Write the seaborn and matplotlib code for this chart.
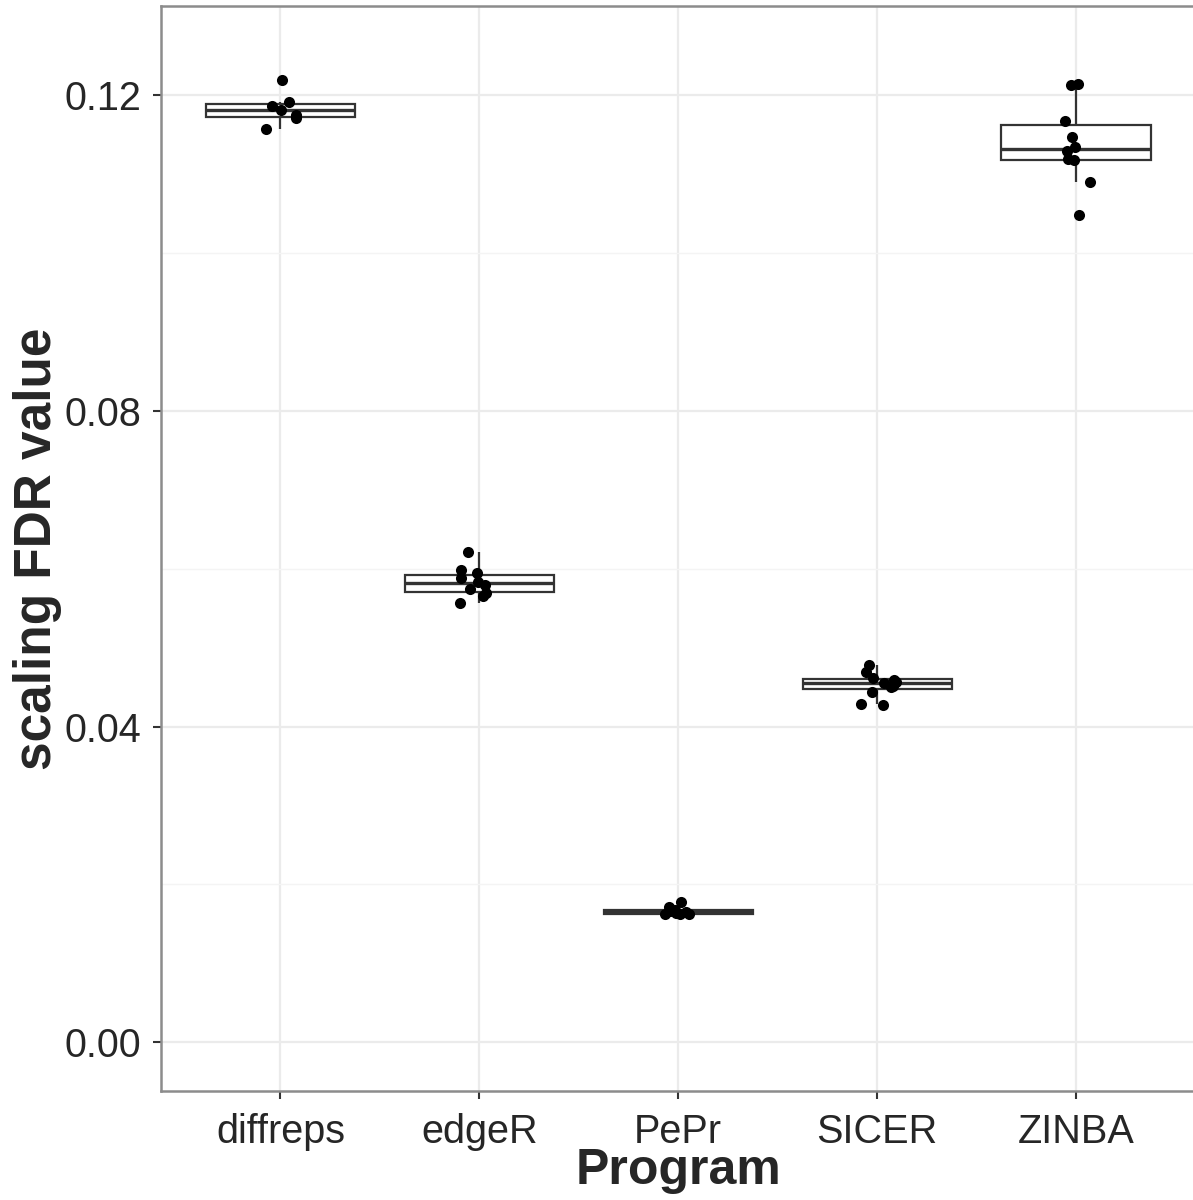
import matplotlib
matplotlib.use("Agg")
import matplotlib.pyplot as plt
from matplotlib.ticker import MultipleLocator, FormatStrFormatter
import numpy as np
import pandas as pd
import seaborn as sns

# values
programs = ["diffreps", "edgeR", "PePr", "SICER", "ZINBA"]
diffreps = [0.1220, 0.1192, 0.1186, 0.1182, 0.1175, 0.1171, 0.1158]
edger = [0.0621, 0.0598, 0.0594, 0.0588, 0.0583, 0.0580, 0.0574, 0.0569, 0.0566, 0.0556]
pepr = [0.0177, 0.0171, 0.0168, 0.0166, 0.0165, 0.0164, 0.0163, 0.0163, 0.0162]
sicer = [0.0478, 0.0469, 0.0461, 0.0459, 0.0456, 0.0455, 0.0452, 0.0450, 0.0444, 0.0428, 0.0427]
zinba = [0.1215, 0.1213, 0.1168, 0.1147, 0.1134, 0.1129, 0.1120, 0.1118, 0.1090, 0.1048]
yticks = [0.00, 0.04, 0.08, 0.12]

vals = [diffreps, edger, pepr, sicer, zinba]
df = pd.DataFrame({
    "Program": np.repeat(programs, [len(v) for v in vals]),
    "fdr": np.concatenate(vals),
})

sns.set_style("white")
plt.rcParams["font.family"] = ["Liberation Sans", "DejaVu Sans"]

fig = plt.figure(figsize=(11.93, 12), dpi=100)
ax = fig.add_axes([0.135, 0.0908, 0.867, 0.904])

sns.boxplot(data=df, x="Program", y="fdr", order=programs, color="white",
            linecolor="#333333", linewidth=1.6, width=0.75, showcaps=False,
            showfliers=False, saturation=1, ax=ax,
            medianprops={"linewidth": 2.4, "color": "#333333"})

np.random.seed(3)
sns.stripplot(data=df, x="Program", y="fdr", order=programs, color="black",
              jitter=0.1, size=8, linewidth=0, ax=ax, zorder=5)

# grid like theme_bw (after seaborn, which switches the categorical grid off)
ax.set_axisbelow(True)
ax.yaxis.set_minor_locator(MultipleLocator(0.02))
ax.grid(True, which="major", axis="both", color="#ebebeb", linewidth=1.6)
ax.grid(True, which="minor", axis="y", color="#f4f4f4", linewidth=1.0)

ax.set_xlim(-0.6, 4.6)
ax.set_ylim(-0.0062, 0.1313)
ax.set_yticks(yticks)
ax.yaxis.set_major_formatter(FormatStrFormatter("%.2f"))

for s in ax.spines.values():
    s.set_color("#8c8c8c")
    s.set_linewidth(1.8)

ax.tick_params(axis="both", which="major", length=6, width=1.5, color="#333333",
               labelsize=28.5, labelcolor="#262626", left=True, bottom=True)
ax.tick_params(axis="y", which="major", pad=8)
ax.tick_params(axis="x", which="major", pad=10)
ax.tick_params(axis="both", which="minor", length=0)

ax.set_xlabel("Program", fontsize=36, fontweight="bold", labelpad=-2)
ax.set_ylabel("scaling FDR value", fontsize=37, fontweight="bold", labelpad=2)

fig.savefig("out.png", dpi=100)
